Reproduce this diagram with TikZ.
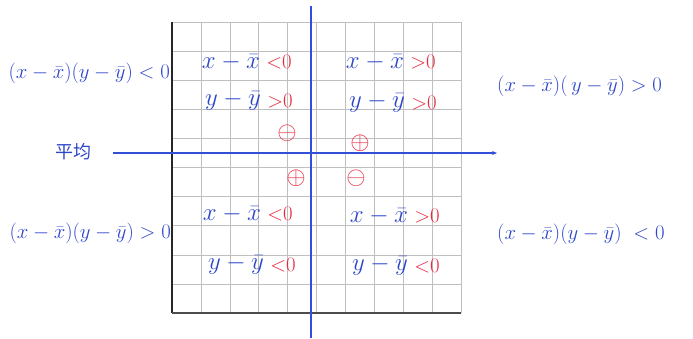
\documentclass[tikz,border=0pt]{standalone}
\usepackage{amsmath}
\usepackage{fontspec}
\newfontfamily\cjk{Noto Sans CJK SC}
\usepackage{tikz}
\usetikzlibrary{positioning,arrows.meta}

\definecolor{penblue}{RGB}{45,70,200}
\definecolor{axisblue}{RGB}{50,80,215}
\definecolor{penred}{RGB}{232,40,62}

\begin{document}
\begin{tikzpicture}[x=1pt, y=-1pt, node distance=6pt]
  \tikzset{
    hw/.style={text=penblue, inner sep=0pt, font=\fontsize{24}{26}\selectfont},
    prod/.style={text=penblue, inner sep=0pt, font=\fontsize{20}{22}\selectfont},
    sgn/.style={text=penred, inner sep=0pt, font=\fontsize{21}{23}\selectfont},
    signmark/.style={text=penred, inner sep=0pt, font=\fontsize{27}{29}\selectfont},
    gridline/.style={gray!50, line width=0.6pt},
    axis/.style={axisblue, line width=1.3pt}
  }
  \useasboundingbox (0,0) rectangle (693,338);
  % grid paper
  \foreach \i in {0,...,10} {
    \draw[gridline] ({172+28.9*\i},22) -- ({172+28.9*\i},313);
    \draw[gridline] (172,{22+29.1*\i}) -- (461,{22+29.1*\i});
  }
  \draw[black!85, line width=1.4pt] (172,22) -- (172,313);
  \draw[black!70, line width=1.1pt] (172,313) -- (461,313);

  % axes
  \node[text=penblue, inner sep=0pt, font=\cjk\fontsize{18}{20}\selectfont] (avg) at (73,152) {平均};
  \coordinate (hstart) at (113,153);
  \coordinate (hend) at (497,153);
  \coordinate (vtop) at (311,6);
  \coordinate (vbot) at (311,338);
  \draw[axis, -{Stealth[length=5pt,width=4pt]}] (hstart) -- (hend);
  \draw[axis] (vtop) -- (vbot);

  % upper left
  \node[hw] (ulx) at (231,62) {$x-\bar{x}$};
  \node[sgn, right=of ulx] (ulxs) {${<}0$};
  \node[hw] (uly) at (233,101) {$y-\bar{y}$};
  \node[sgn, right=of uly] (ulys) {${>}0$};
  \node[signmark] (ulm) at (287,133) {$\ominus$};
  % upper right
  \node[hw] (urx) at (375,62) {$x-\bar{x}$};
  \node[sgn, right=of urx] (urxs) {${>}0$};
  \node[hw] (ury) at (377,103) {$y-\bar{y}$};
  \node[sgn, right=of ury] (urys) {${>}0$};
  \node[signmark] (urm) at (360,143) {$\oplus$};
  % lower left
  \node[signmark] (llm) at (296,178) {$\oplus$};
  \node[hw] (llx) at (232,214) {$x-\bar{x}$};
  \node[sgn, right=of llx] (llxs) {${<}0$};
  \node[hw] (lly) at (236,265) {$y-\bar{y}$};
  \node[sgn, right=of lly] (llys) {${<}0$};
  % lower right
  \node[signmark] (lrm) at (356,178) {$\ominus$};
  \node[hw] (lrx) at (379,216) {$x-\bar{x}$};
  \node[sgn, right=of lrx] (lrxs) {${>}0$};
  \node[hw] (lry) at (380,266) {$y-\bar{y}$};
  \node[sgn, right=of lry] (lrys) {${<}0$};

  % products
  \node[prod, anchor=east] (ulp) at (170,73) {$(x-\bar{x})(y-\bar{y})<0$};
  \node[prod, anchor=west] (urp) at (497,86) {$(x-\bar{x})(\,y-\bar{y})>0$};
  \node[prod, anchor=east] (llp) at (171,233) {$(x-\bar{x})(y-\bar{y})>0$};
  \node[prod, anchor=west] (lrp) at (497,234) {$(x-\bar{x})(y-\bar{y})\ <0$};
\end{tikzpicture}
\end{document}
